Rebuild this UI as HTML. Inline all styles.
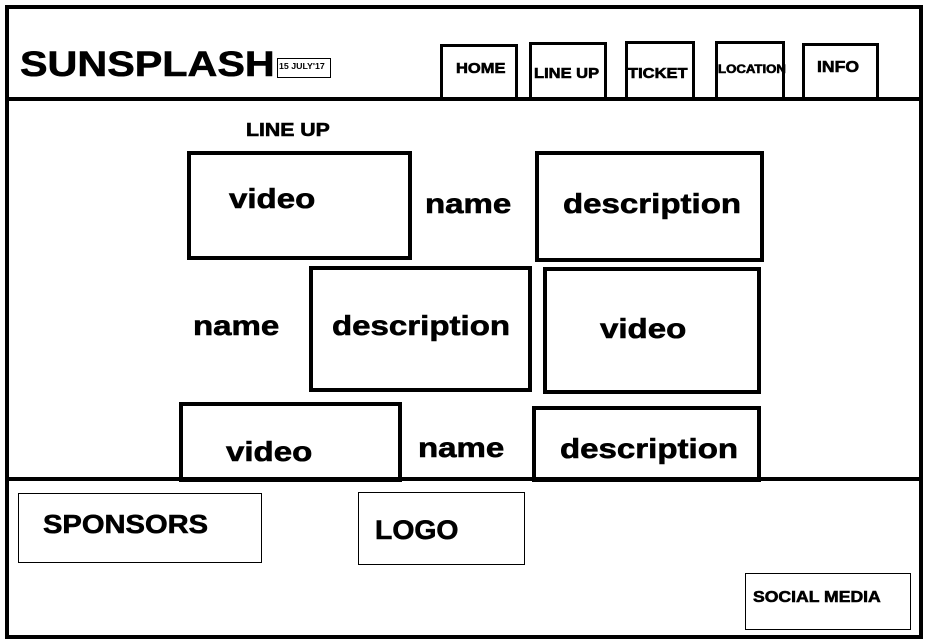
<!DOCTYPE html>
<html><head><style>
body{margin:0;width:926px;height:643px;background:#fff;position:relative;overflow:hidden;font-family:"Liberation Sans",Arial,sans-serif;font-weight:bold;color:#000}
div{position:absolute;box-sizing:border-box}
.b3{border:3px solid #000}
.b4{border:4px solid #000}
.b1{border:1px solid #000}
.t{position:absolute;white-space:nowrap;line-height:1;transform-origin:left top;transform:scaleX(1.18);-webkit-text-stroke:0.6px #000}
.s{transform:scaleX(1.1)}
</style></head><body>
<div style="left:5px;top:5px;width:918px;height:634px;border:4px solid #000"></div>
<div style="left:5px;top:97px;width:918px;height:4px;background:#000"></div>
<div style="left:5px;top:477px;width:918px;height:4px;background:#000"></div>

<div class="t" style="left:20px;top:47px;font-size:35px">SUNSPLASH</div>
<div class="b1" style="left:277px;top:58px;width:54px;height:20px"></div>
<div class="t s" style="left:279px;top:63px;font-size:8px;-webkit-text-stroke:0">15 JULY'17</div>

<div class="b3" style="left:440px;top:44px;width:78px;height:56px"></div>
<div class="t s" style="left:456px;top:61px;font-size:15px">HOME</div>
<div class="b3" style="left:529px;top:42px;width:78px;height:58px"></div>
<div class="t s" style="left:534px;top:66px;font-size:15px">LINE UP</div>
<div class="b3" style="left:625px;top:41px;width:70px;height:59px"></div>
<div class="t s" style="left:628px;top:66px;font-size:15px">TICKET</div>
<div class="b3" style="left:715px;top:41px;width:70px;height:59px"></div>
<div class="t s" style="left:718px;top:63px;font-size:12px">LOCATION</div>
<div class="b3" style="left:802px;top:43px;width:77px;height:57px"></div>
<div class="t s" style="left:817px;top:60px;font-size:16px">INFO</div>

<div class="t" style="left:246px;top:121px;font-size:18px">LINE UP</div>

<div class="b4" style="left:187px;top:151px;width:225px;height:109px"></div>
<div class="t" style="left:229px;top:185px;font-size:28px">video</div>
<div class="t" style="left:425px;top:190px;font-size:28px">name</div>
<div class="b4" style="left:535px;top:151px;width:229px;height:111px"></div>
<div class="t" style="left:563px;top:190px;font-size:28px">description</div>

<div class="t" style="left:193px;top:312px;font-size:28px">name</div>
<div class="b4" style="left:309px;top:266px;width:223px;height:126px"></div>
<div class="t" style="left:332px;top:312px;font-size:28px">description</div>
<div class="b4" style="left:543px;top:267px;width:218px;height:127px"></div>
<div class="t" style="left:600px;top:315px;font-size:28px">video</div>

<div class="b4" style="left:179px;top:402px;width:223px;height:80px"></div>
<div class="t" style="left:226px;top:438px;font-size:28px">video</div>
<div class="t" style="left:418px;top:434px;font-size:28px">name</div>
<div class="b4" style="left:532px;top:406px;width:229px;height:76px"></div>
<div class="t" style="left:560px;top:435px;font-size:28px">description</div>

<div class="b1" style="left:18px;top:493px;width:244px;height:70px"></div>
<div class="t" style="left:43px;top:511px;font-size:26px;transform:scaleX(1.12)">SPONSORS</div>
<div class="b1" style="left:358px;top:492px;width:167px;height:73px"></div>
<div class="t" style="left:375px;top:517px;font-size:27px;transform:scaleX(1.05)">LOGO</div>
<div class="b1" style="left:745px;top:573px;width:166px;height:57px"></div>
<div class="t s" style="left:753px;top:590px;font-size:16px">SOCIAL MEDIA</div>
</body></html>
